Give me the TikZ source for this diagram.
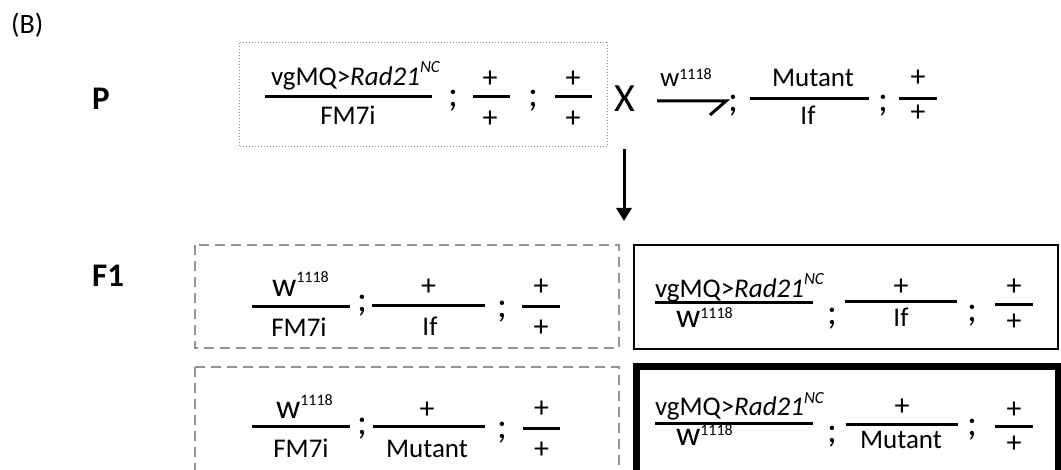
\documentclass[tikz,border=0pt]{standalone}
\usepackage{fontspec}
\setmainfont{Carlito}
\usetikzlibrary{arrows.meta}
\newcommand\sz[1]{\fontsize{#1}{#1}\selectfont}
\newcommand\radnc{vgMQ>\textit{Rad21}\raisebox{13pt}{\sz{17}\itshape NC}}
\newcommand\wsup[3]{{\sz{#1}w}\raisebox{#2}{\sz{#3}1118}}
\tikzset{
  x=1pt, y=-1pt,
  txt/.style={inner sep=0pt, outer sep=0pt, anchor=base, font=\sz{27}},
  txtw/.style={txt, anchor=base west},
  semi/.style={txt, font=\sz{37}},
  pl/.style={txt, font=\sz{30}},
  bar/.style={line width=3pt},
  lbl/.style={inner sep=0pt, anchor=base west, font=\sz{33}\bfseries},
  dotbox/.style={draw=gray!90, line width=1pt, dotted},
  dashbox/.style={draw=gray!85, line width=2.5pt, dash pattern=on 10pt off 6pt},
  solidbox/.style={draw=black, line width=2.5pt},
  thickbox/.style={draw=black, line width=7pt},
}
\begin{document}
\begin{tikzpicture}
\useasboundingbox (0,0) rectangle (1061,470);
\clip (0,0) rectangle (1061,470);
% labels
\node[inner sep=0pt, anchor=base west, font=\sz{28}] (lblB) at (11,34) {(B)};
\node[lbl] (lblP) at (92,110) {P};
\node[lbl] (lblF) at (92,287) {F1};
% P female
\draw[dotbox] (239,43) rectangle (607,147);
\node[txtw] (p1t) at (271,86) {\radnc};
\node[txt] (p1b) at (348,125) {FM7i};
\draw[bar] (265,97) -- (432,97);
\node[semi] (ps1) at (453,106.5) {;};
\node[pl] (p2t) at (490,87.5) {+};
\node[pl] (p2b) at (490,127.5) {+};
\draw[bar] (473,97) -- (510,97);
\node[semi] (ps2) at (533,106.5) {;};
\node[pl] (p3t) at (573,87.5) {+};
\node[pl] (p3b) at (573,127.5) {+};
\draw[bar] (555,97) -- (592,97);
% cross
\node[txt, font=\sz{40}] (X) at (625,112) {X};
% P male
\node[txtw] (m1t) at (660,87) {\wsup{27}{7pt}{16}};
\draw[bar] (657,101) -- (726,101) -- (710,115);
\node[semi] (ms1) at (733,111.5) {;};
\node[txt] (m2t) at (813,87) {Mutant};
\node[txt] (m2b) at (808,125) {If};
\draw[bar] (750,99) -- (869,99);
\node[semi] (ms2) at (883,111.5) {;};
\node[pl] (m3t) at (918,86.5) {+};
\node[pl] (m3b) at (918,122) {+};
\draw[bar] (899,99) -- (937,99);
% arrow
\coordinate (arrS) at (624,149);
\coordinate (arrE) at (624,221);
\draw[line width=3pt, -{Triangle[width=15pt,length=13pt]}] (arrS) -- (arrE);
% F1 top-left
\draw[dashbox] (195,245) rectangle (619,348);
\node[txtw] (a1t) at (272,297) {\wsup{34}{14pt}{16}};
\node[txt] (a1b) at (299,337) {FM7i};
\draw[bar] (252,307) -- (350,307);
\node[semi] (as1) at (362,311.5) {;};
\node[pl] (a2t) at (428.5,295.5) {+};
\node[txt] (a2b) at (430,336) {If};
\draw[bar] (372,306) -- (485,306);
\node[semi] (as2) at (502,317.5) {;};
\node[pl] (a3t) at (541,295.5) {+};
\node[pl] (a3b) at (541,336.5) {+};
\draw[bar] (522,307) -- (560,307);
% F1 bottom-left
\draw[dashbox] (195,367) rectangle (619,500);
\node[txtw] (b1t) at (276,418) {\wsup{34}{13pt}{16}};
\node[txt] (b1b) at (301,457) {FM7i};
\draw[bar] (252,427) -- (350,427);
\node[semi] (bs1) at (362,434.5) {;};
\node[pl] (b2t) at (427,418.5) {+};
\node[txt] (b2b) at (427,457) {Mutant};
\draw[bar] (373,427) -- (485,427);
\node[semi] (bs2) at (502,438.5) {;};
\node[pl] (b3t) at (541.5,417.5) {+};
\node[pl] (b3b) at (541.5,458.5) {+};
\draw[bar] (523,429) -- (560,429);
% F1 top-right
\draw[solidbox] (634,245) rectangle (1058,349);
\node[txtw] (c1t) at (655,298) {\radnc};
\node[txtw] (c1b) at (676,328) {\wsup{34}{9pt}{16}};
\draw[bar] (655,303) -- (813,303);
\node[semi] (cs1) at (832,325) {;};
\node[pl] (c2t) at (901,295.5) {+};
\node[txt] (c2b) at (901,327) {If};
\draw[bar] (845,302) -- (957,302);
\node[semi] (cs2) at (972,321.5) {;};
\node[pl] (c3t) at (1014,295.5) {+};
\node[pl] (c3b) at (1014,330.5) {+};
\draw[bar] (995,305) -- (1033,305);
% F1 bottom-right
\draw[thickbox] (636,367) rectangle (1058,500);
\node[txtw] (d1t) at (655,416) {\radnc};
\node[txtw] (d1b) at (676,446) {\wsup{34}{10pt}{16}};
\draw[bar] (655,424) -- (813,424);
\node[semi] (ds1) at (832,442.5) {;};
\node[pl] (d2t) at (902,415.5) {+};
\node[txt] (d2b) at (901,448) {Mutant};
\draw[bar] (846,425) -- (958,425);
\node[semi] (ds2) at (972,435.5) {;};
\node[pl] (d3t) at (1014,418.5) {+};
\node[pl] (d3b) at (1014,452.5) {+};
\draw[bar] (995,427) -- (1033,427);
\end{tikzpicture}
\end{document}
